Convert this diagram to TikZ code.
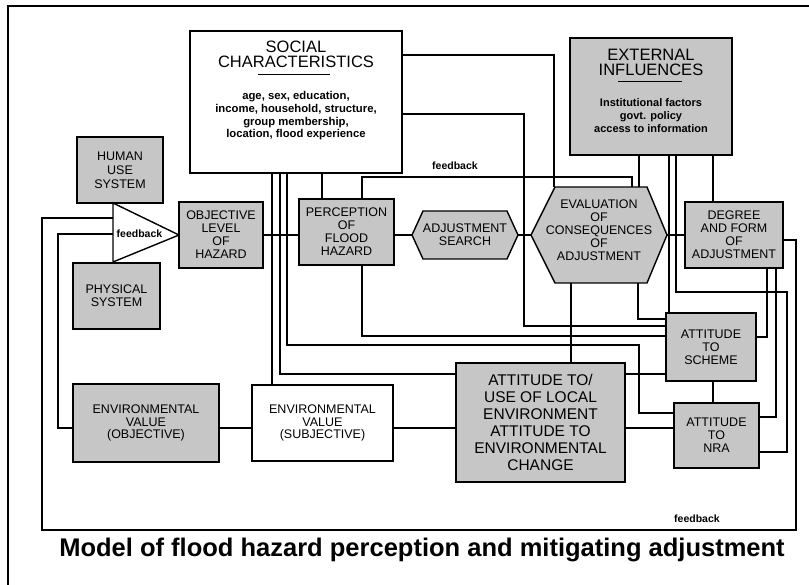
\documentclass[tikz,border=0pt]{standalone}
\usepackage{fontspec}
\setmainfont{Liberation Sans}
\usetikzlibrary{calc}

\begin{document}
\begin{tikzpicture}[x=1pt,y=-1pt,
  link/.style={line width=1.1pt},
  framebox/.style={draw, line width=1.4pt, inner sep=0pt},
  shaded/.style={framebox, fill=gray!45},
  plain/.style={framebox, fill=white},
  lbl/.style={align=center, font=\fontsize{12.5}{13}\selectfont},
  biglbl/.style={align=center, font=\fontsize{15.5}{17}\selectfont},
  headlbl/.style={align=center, inner sep=0pt, font=\fontsize{16.5}{15}\selectfont},
  bodylbl/.style={align=center, inner sep=0pt, font=\bfseries\fontsize{11.3}{12.7}\selectfont},
  fb/.style={inner sep=0pt, font=\bfseries\fontsize{10.5}{12}\selectfont},
]
\useasboundingbox (0,0) rectangle (809,585);

% page frame
\draw[line width=2.5pt] (8,585) -- (8,6) -- (809,6);

% ---- boxes ----
\node[plain, minimum width=212pt, minimum height=142pt] (soc) at (296,102) {};
\node[headlbl] (soctitle) at (296,54.5) {SOCIAL\\CHARACTERISTICS};
\draw[line width=1pt] (258,75) -- (330,75);
\node[bodylbl] (socbody) at (296,116) {age, sex, education,\\income, household, structure,\\group membership,\\location, flood experience};

\node[shaded, minimum width=162pt, minimum height=117pt] (ext) at (651,96.5) {};
\node[headlbl] (exttitle) at (651,62) {EXTERNAL\\INFLUENCES};
\draw[line width=1pt] (618,82) -- (682,82);
\node[bodylbl, font=\bfseries\fontsize{11}{13}\selectfont] (extbody) at (651,116) {Institutional factors\\govt. policy\\access to information};

\node[shaded, lbl, minimum width=86pt, minimum height=66pt, font=\fontsize{12.5}{14}\selectfont] (human) at (120,170) {HUMAN\\USE\\SYSTEM};
\node[shaded, lbl, minimum width=87pt, minimum height=66pt] (phys) at (116.5,296) {PHYSICAL\\SYSTEM};

% feedback triangle
\filldraw[fill=white, line width=1.4pt] (113,203) -- (179,235) -- (113,262) -- cycle;
\node[inner sep=0pt, minimum width=66pt, minimum height=59pt] (tri) at (146,232.5) {};
\node[fb] (fbtri) at (139.5,234) {feedback};

\node[shaded, lbl, minimum width=84pt, minimum height=66pt] (obj) at (221,235) {OBJECTIVE\\LEVEL\\OF\\HAZARD};
\node[shaded, lbl, minimum width=95pt, minimum height=66pt] (perc) at (346.5,232) {PERCEPTION\\OF\\FLOOD\\HAZARD};

% adjustment search hexagon
\filldraw[fill=gray!45, line width=1.4pt] (412,235) -- (423,211) -- (507,211) -- (518,235) -- (507,259) -- (423,259) -- cycle;
\node[lbl, inner sep=0pt, minimum width=106pt, minimum height=48pt] (search) at (465,235) {ADJUSTMENT\\SEARCH};

% evaluation hexagon
\filldraw[fill=gray!45, line width=1.4pt] (531,235) -- (555,187) -- (647,187) -- (667,235) -- (647,283) -- (555,283) -- cycle;
\node[inner sep=0pt, minimum width=136pt, minimum height=96pt] (eval) at (599,235) {};
\node[lbl, inner sep=0pt] (evaltext) at (599,230) {EVALUATION\\OF\\CONSEQUENCES\\OF\\ADJUSTMENT};

\node[shaded, lbl, minimum width=98pt, minimum height=66pt] (degree) at (734,235) {DEGREE\\AND FORM\\OF\\ADJUSTMENT};
\node[shaded, lbl, minimum width=90pt, minimum height=68pt] (sch) at (711,347) {ATTITUDE\\TO\\SCHEME};
\node[shaded, lbl, minimum width=85pt, minimum height=65pt] (nra) at (716.5,435.5) {ATTITUDE\\TO\\NRA};
\node[shaded, biglbl, minimum width=169pt, minimum height=119pt] (loc) at (540.5,422.5) {ATTITUDE TO/\\USE OF LOCAL\\ENVIRONMENT\\ATTITUDE TO\\ENVIRONMENTAL\\CHANGE};
\node[plain, lbl, minimum width=141pt, minimum height=76pt, font=\fontsize{12.5}{12.5}\selectfont] (subj) at (322.5,423) {ENVIRONMENTAL\\VALUE\\(SUBJECTIVE)};
\node[shaded, lbl, minimum width=146pt, minimum height=78pt, font=\fontsize{12.5}{12.5}\selectfont] (envobj) at (146,423) {ENVIRONMENTAL\\VALUE\\(OBJECTIVE)};

% ---- connectors ----
% main chain
\draw[link] (obj.east) -- (obj.east -| perc.west);
\draw[link] (search.west -| perc.east) -- (search.west);
\draw[link] (search.east) -- (eval.west);
\draw[link] (eval.east) -- (eval.east -| degree.west);

% outer feedback loop
\draw[link] (degree.east |- 0,240) -- (796,240) -- (796,530) -- (42,530) -- (42,218) -- (tri.west |- 0,218);
\node[fb] (fbbottom) at (697,519) {feedback};

% environmental values
\draw[link] (envobj.west |- 0,428) -- (58,428) -- (58,234) -- (tri.west |- 0,234);
\draw[link] (envobj.east |- 0,428) -- (subj.west |- 0,428);
\draw[link] (subj.east |- 0,428) -- (loc.west |- 0,428);
\draw[link] (loc.east |- 0,428) -- (nra.west |- 0,428);
\draw[link] (loc.east |- 0,374) -- (sch.west |- 0,374);

% social characteristics
\draw[link] (soc.south -| 322,0) -- (perc.north -| 322,0);
\draw[link] (soc.south -| 272,0) -- (subj.north -| 272,0);
\draw[link] (soc.south -| 280,0) -- (280,374) -- (loc.west |- 0,374);
\draw[link] (soc.south -| 287,0) -- (287,345) -- (639,345) -- (639,413) -- (nra.west |- 0,413);
\draw[link] (soc.east |- 0,55) -- (554,55) -- (eval.north -| 554,0);
\draw[link] (soc.east |- 0,114) -- (524,114) -- (524,326) -- (sch.west |- 0,326);

% perception
\draw[link] (perc.north -| 362,0) -- (362,177) -- (632,177) -- (eval.north -| 632,0);
\node[fb] (fbtop) at (455,166) {feedback};
\draw[link] (perc.south -| 362,0) -- (362,336) -- (sch.west |- 0,336);

% evaluation
\draw[link] (eval.south -| 571,0) -- (loc.north -| 571,0);
\draw[link] (eval.south -| 638,0) -- (638,319) -- (sch.west |- 0,319);

% external influences
\draw[link] (ext.south -| 639,0) -- (eval.north -| 639,0);
\draw[link] (ext.south -| 669,0) -- (sch.north -| 669,0);
\draw[link] (ext.south -| 676,0) -- (676,292) -- (787,292) -- (787,452) -- (nra.east |- 0,452);
\draw[link] (ext.south -| 713,0) -- (degree.north -| 713,0);

% degree and form of adjustment
\draw[link] (degree.south -| 767,0) -- (767,337) -- (sch.east |- 0,337);
\draw[link] (degree.south -| 776,0) -- (776,417) -- (nra.east |- 0,417);
\draw[link] (sch.south -| 713,0) -- (nra.north -| 713,0);

% caption
\node[inner sep=0pt, font=\bfseries\fontsize{25.5}{28}\selectfont] (caption) at (422,550) {Model of flood hazard perception and mitigating adjustment};
\end{tikzpicture}
\end{document}
